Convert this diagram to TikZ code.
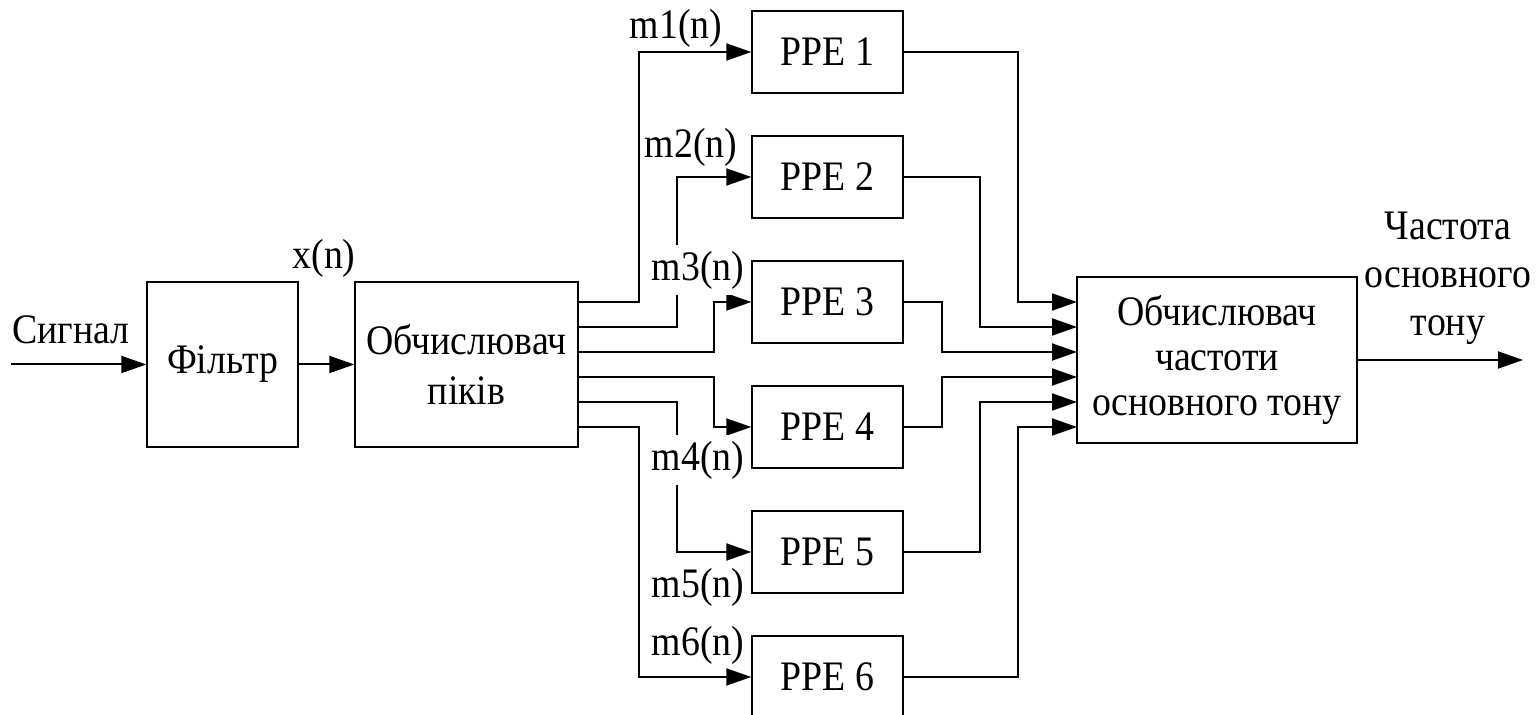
\documentclass[tikz,border=0pt]{standalone}
\usepackage{fontspec}
\setmainfont{Liberation Serif}[FakeStretch=0.9]
\usetikzlibrary{arrows.meta}
\usetikzlibrary{positioning}

\tikzset{
  block/.style={draw, line width=0.7pt, minimum width=75.5pt, minimum height=41pt, inner sep=0pt, align=center},
  sig/.style={line width=1pt, -{Triangle[length=12.5pt,width=8.5pt]}},
  lbl/.style={inner sep=1pt},
  cutlbl/.style={fill=white, inner sep=3pt},
}

\begin{document}
\begin{tikzpicture}[x=0.5pt,y=-0.5pt,font=\fontsize{21}{22.5}\selectfont]
\useasboundingbox (0,0) rectangle (1539,715);

% main chain
\node[block, minimum height=82.5pt] (filt) at (222.5,364.5) {Фільтр};
\node[block, minimum width=111.5pt, minimum height=82.5pt] (peaks) at (466.5,364.5) {Обчислювач\\[2.5pt]піків};
\node[block, minimum width=140pt, minimum height=83pt] (freq) at (1217,360) {Обчислювач\\частоти\\основного тону};

\foreach \i in {1,...,6} {
    \node[block] (ppe\i) at (827.5,{52+125*(\i-1)}) {PPE \i};
    % ends of the wires on the two big boxes
    \coordinate (out\i) at (578,{302+25*(\i-1)});
    \coordinate (in\i) at (1077,{302+25*(\i-1)});
}

\coordinate (sin) at (11,364.5);
\coordinate (fout) at (1523,360);

\node[lbl] (siglbl) at (71,330) {Сигнал};
\node[lbl] (xlbl) at (324,258) {x(n)};
\node[align=center] (outlbl) at (1448,278) {Частота\\[1.5pt]основного\\[1.5pt]тону};

\draw[sig] (sin) -- (filt.west);
\draw[sig] (filt.east) -- (peaks.west);
\draw[sig] (freq.east) -- (fout);

\foreach \i/\dx in {1/61,2/99,3/136,4/136,5/99,6/61}
    \draw[sig] (out\i) -- ++(\dx,0) |- (ppe\i.west);

\foreach \i/\dx in {1/114,2/76,3/38,4/38,5/76,6/114}
    \draw[sig] (ppe\i.east) -- ++(\dx,0) |- (in\i);

% signal names
\node[lbl] (m1) at (676,28) {m1(n)};
\node[lbl] (m2) at (691,147) {m2(n)};
\node[cutlbl] (m3) at (698,270) {m3(n)};
\node[cutlbl] (m4) at (698,460) {m4(n)};
\node[lbl] (m5) at (698,587) {m5(n)};
\node[lbl] (m6) at (698,645) {m6(n)};
\end{tikzpicture}
\end{document}
